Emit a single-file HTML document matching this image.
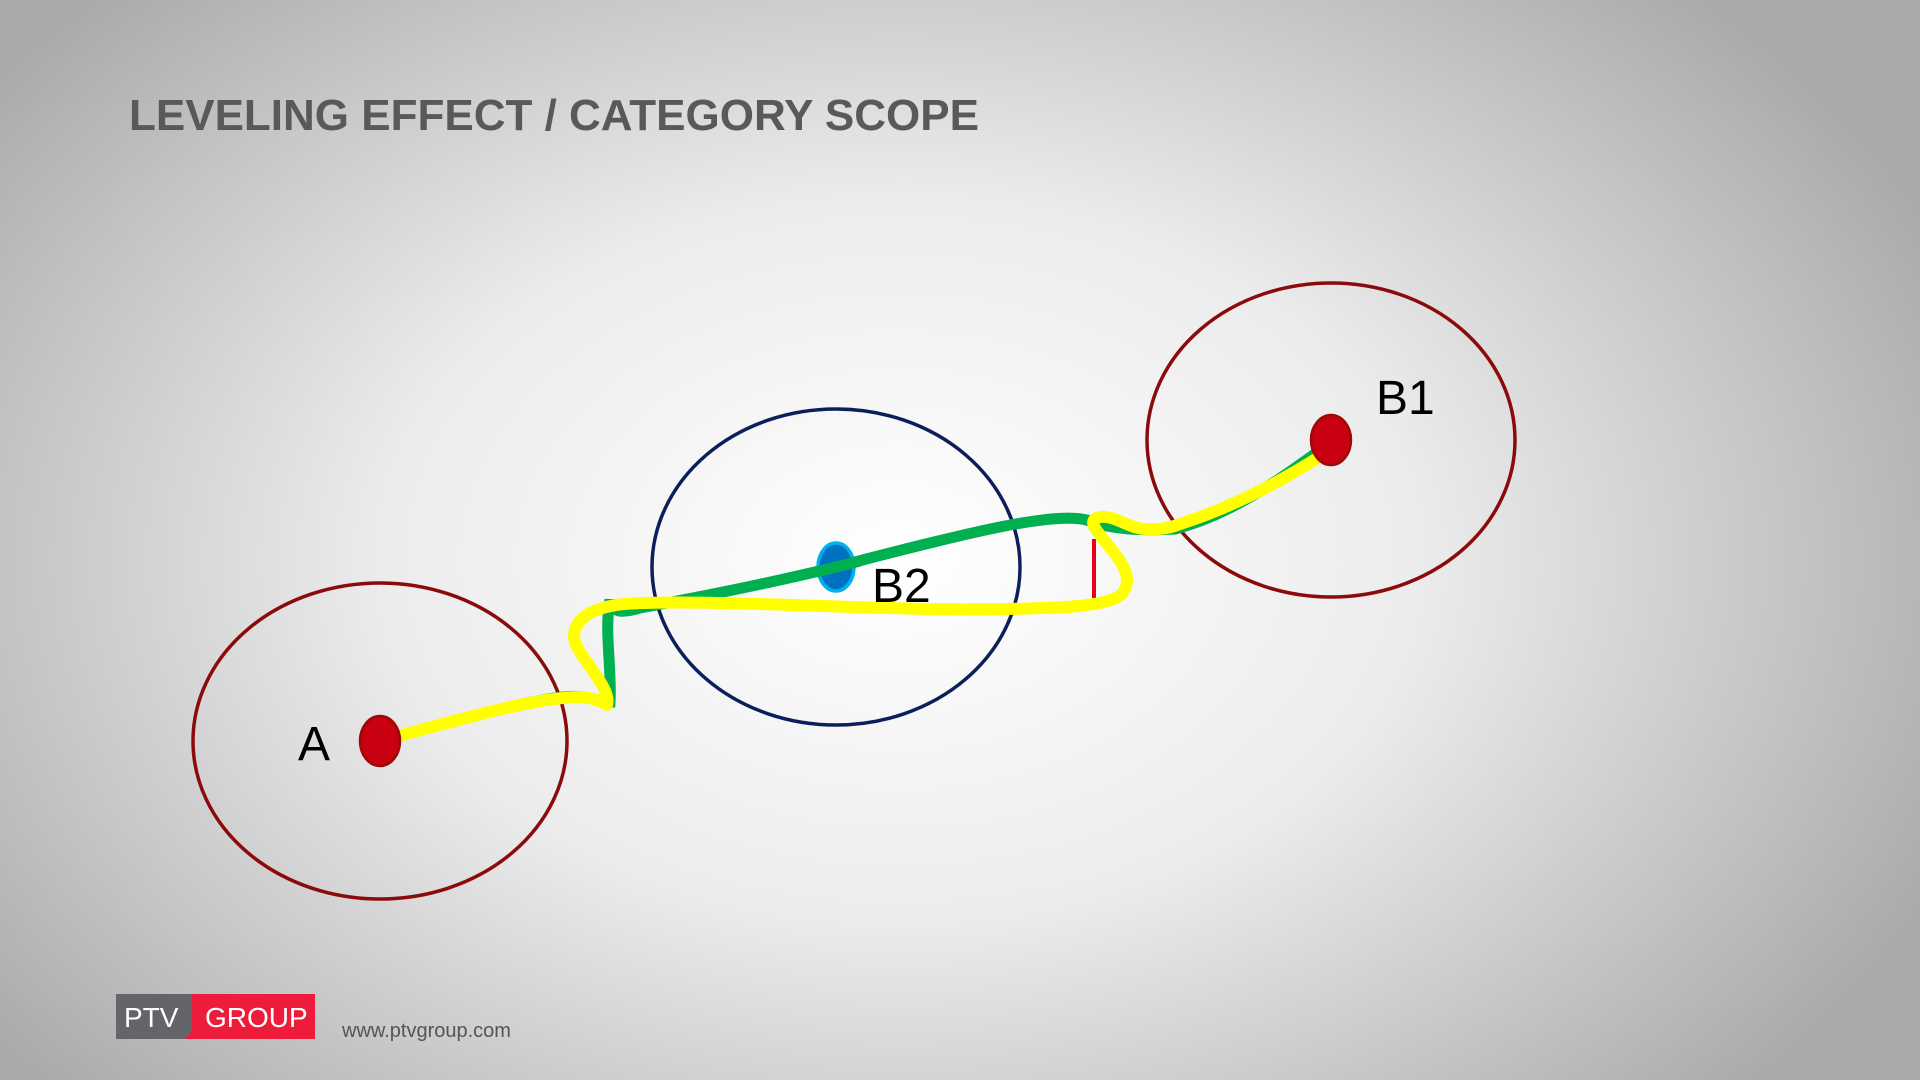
<!DOCTYPE html>
<html><head><meta charset="utf-8"><style>
html,body{margin:0;padding:0}
body{width:1920px;height:1080px;overflow:hidden;background:radial-gradient(ellipse 1150px 800px at 900px 560px,#ffffff 0%,#ececec 45%,#a9a9a9 100%);font-family:"Liberation Sans",sans-serif;position:relative}
.t{position:absolute;left:129px;top:91px;font-size:44px;font-weight:bold;color:#595959}
</style></head><body>
<div class="t">LEVELING EFFECT / CATEGORY SCOPE</div>
<svg width="1920" height="1080" style="position:absolute;left:0;top:0">
<ellipse cx="380" cy="741" rx="187" ry="158" fill="none" stroke="#8b0a0a" stroke-width="3.5"/>
<ellipse cx="836" cy="567" rx="184" ry="158" fill="none" stroke="#0c1f5a" stroke-width="3.5"/>
<ellipse cx="1331" cy="440" rx="184" ry="157" fill="none" stroke="#8b0a0a" stroke-width="3.5"/>
<line x1="1094" y1="539" x2="1094" y2="598" stroke="#e8001c" stroke-width="4"/>
<path d="M380,741 C450,722 520,702 563,697 C585,694 600,702 610,702 C612,670 604,630 610,600 C612,612 620,614 640,608 C700,597 770,583 836,567 C900,550 980,530 1016,524 C1050,518 1075,516 1090,521 C1110,529 1140,531 1175,529 C1230,515 1280,480 1331,442" fill="none" stroke="#00b050" stroke-width="11" stroke-linecap="round"/>
<path d="M380,741 C450,722 520,702 563,698 C585,695 600,700 607,705 C612,690 584,662 576,645 C568,625 585,608 624,604 C700,598 900,612 1004,609 C1060,608 1108,607 1122,594 C1135,578 1120,560 1108,545 C1098,532 1085,520 1100,517 C1115,515 1130,529 1145,529 C1160,530 1170,528 1180,524 C1240,505 1290,475 1316,459" fill="none" stroke="#ffff00" stroke-width="12" stroke-linecap="round" stroke-linejoin="round"/>
<ellipse cx="380" cy="741" rx="20" ry="25" fill="#c8000f" stroke="#9a0a0a" stroke-width="2.5"/>
<ellipse cx="1331" cy="440" rx="20" ry="25" fill="#c8000f" stroke="#9a0a0a" stroke-width="2.5"/>
<ellipse cx="836" cy="567" rx="18" ry="24" fill="#0070c0" stroke="#00b0f0" stroke-width="3.5"/>
<line x1="816" y1="572" x2="860" y2="561" stroke="#00b050" stroke-width="11"/>
<text x="298" y="760" font-family="Liberation Sans" font-size="48" fill="#000">A</text>
<text x="872" y="602" font-family="Liberation Sans" font-size="48" fill="#000">B2</text>
<text x="1376" y="414" font-family="Liberation Sans" font-size="48" fill="#000">B1</text>
<rect x="116" y="994" width="76" height="45" fill="#646569"/>
<path d="M192,994 H315 V1039 H184 C190,1036 192,1030 192,1024 Z" fill="#ee1c3a"/>
<text x="124" y="1027" font-family="Liberation Sans" font-size="28" fill="#fff">PTV</text>
<text x="205" y="1027" font-family="Liberation Sans" font-size="28" fill="#fff">GROUP</text>
<text x="342" y="1037" font-family="Liberation Sans" font-size="20" fill="#555">www.ptvgroup.com</text>
</svg>
</body></html>
